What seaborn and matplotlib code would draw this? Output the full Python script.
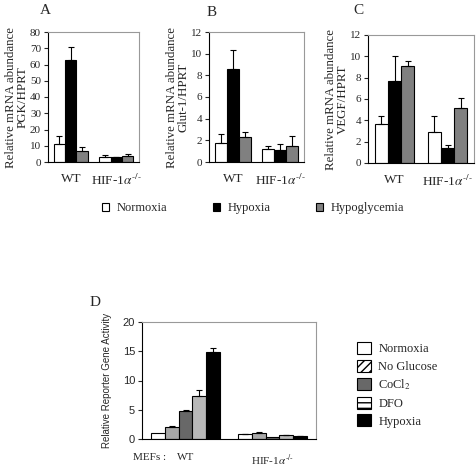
import numpy as np
import pandas as pd
import matplotlib
matplotlib.use('Agg')
import matplotlib.pyplot as plt
import seaborn as sns
from matplotlib.patches import Patch

sns.set_style('ticks')
plt.rcParams['font.family'] = ['Liberation Serif', 'DejaVu Serif']
plt.rcParams['mathtext.fontset'] = 'stix'

# Data
genotypes = ['WT', 'HIF']
genotype_labels = ['WT', r'HIF-1$\alpha^{\text{-/-}}$']
conditions = ['Normoxia', 'Hypoxia', 'Hypoglycemia']
cond_colors = ['white', 'black', '#808080']

pgk_mean = [[11, 3], [63, 3], [7, 3.5]]
pgk_err = [[5, 1.5], [7.5, 0.3], [2.5, 1.5]]
glut_mean = [[1.8, 1.2], [8.6, 1.1], [2.3, 1.5]]
glut_err = [[0.8, 0.3], [1.7, 0.6], [0.5, 0.9]]
vegf_mean = [[3.7, 2.9], [7.7, 1.4], [9.1, 5.2]]
vegf_err = [[0.7, 1.5], [2.3, 0.3], [0.5, 0.9]]

rep_conditions = ['Normoxia', 'No Glucose', 'CoCl$_2$', 'DFO', 'Hypoxia']
rep_colors = ['white', '#a8a8a8', '#686868', '#b8b8b8', 'black']
rep_leg_hatches = ['', '////', '', '---', '']
rep_leg_colors = ['white', 'white', '#686868', 'white', 'black']
rep_mean = [[1.1, 0.8], [2.0, 1.0], [4.8, 0.35], [7.4, 0.6], [14.8, 0.45]]
rep_err = [[0.0, 0.1], [0.3, 0.25], [0.1, 0.0], [0.9, 0.05], [0.7, 0.05]]


def make_df(conds, means):
    rows = []
    for c, vals in zip(conds, means):
        for g, v in zip(genotypes, vals):
            rows.append({'genotype': g, 'condition': c, 'value': v})
    return pd.DataFrame(rows)


def draw_panel(ax, conds, colors, means, errs, width=0.75):
    df = make_df(conds, means)
    sns.barplot(data=df, x='genotype', y='value', hue='condition', order=genotypes,
                hue_order=conds, palette=colors, errorbar=None, width=width,
                edgecolor='black', linewidth=0.8, legend=False, ax=ax)
    for cont, err in zip(ax.containers, errs):
        for bar, e in zip(cont, err):
            x = bar.get_x() + bar.get_width() / 2
            y = bar.get_height()
            if e > 0:
                ax.errorbar([x], [y], yerr=[[0], [e]], fmt='none', ecolor='black',
                            elinewidth=0.8, capsize=2.5, capthick=0.8)
    ax.set_xlabel('')
    ax.set_xticks([0, 1])
    ax.set_xticklabels(genotype_labels)
    ax.set_xlim(-0.5, 1.5)
    for s in ['top', 'right']:
        ax.spines[s].set_visible(True)
        ax.spines[s].set_color('#999999')
        ax.spines[s].set_linewidth(0.8)
    for s in ['left', 'bottom']:
        ax.spines[s].set_color('black')
        ax.spines[s].set_linewidth(0.8)
    ax.tick_params(axis='x', length=0, labelsize=9.5, pad=8)
    ax.tick_params(axis='y', length=3, width=0.8, labelsize=8, pad=2)


fig = plt.figure(figsize=(4.76, 4.67), dpi=100)
W, H = 476, 467


def add_axes(l, t, r, b):
    return fig.add_axes([l / W, 1 - b / H, (r - l) / W, (b - t) / H])


ylab_kw = dict(fontsize=9.3, labelpad=1, linespacing=0.95)

axA = add_axes(48, 32, 139, 162)
draw_panel(axA, conditions, cond_colors, pgk_mean, pgk_err)
axA.set_ylim(0, 80)
axA.set_yticks(range(0, 81, 10))
axA.set_ylabel('Relative mRNA abundance\nPGK/HPRT', **ylab_kw)

axB = add_axes(209, 32, 304, 162)
draw_panel(axB, conditions, cond_colors, glut_mean, glut_err)
axB.set_ylim(0, 12)
axB.set_yticks(range(0, 13, 2))
axB.set_ylabel('Relative mRNA abundance\nGlut-1/HPRT', **ylab_kw)

axC = add_axes(368, 35, 474, 163)
draw_panel(axC, conditions, cond_colors, vegf_mean, vegf_err)
axC.set_ylim(0, 12)
axC.set_yticks(range(0, 13, 2))
axC.set_ylabel('Relative mRNA abundance\nVEGF/HPRT', **ylab_kw)

fig.text(40 / W, 1 - 10 / H, 'A', fontsize=11, va='center')
fig.text(207 / W, 1 - 13 / H, 'B', fontsize=11, va='center')
fig.text(353 / W, 1 - 11 / H, 'C', fontsize=11, va='center')

handles = [Patch(facecolor=c, edgecolor='black', linewidth=0.8) for c in cond_colors]
fig.legend(handles, conditions, loc='center', bbox_to_anchor=(253 / W, 1 - 208 / H),
           ncol=3, frameon=False, fontsize=9, handlelength=0.6, handleheight=0.6,
           handletextpad=0.6, columnspacing=3.6)

# Panel D
axD = add_axes(142, 322, 316, 439)
draw_panel(axD, rep_conditions, rep_colors, rep_mean, rep_err, width=0.8)
axD.set_ylim(0, 20)
axD.set_yticks(range(0, 21, 5))
for lab in axD.get_yticklabels():
    lab.set_fontfamily('Liberation Sans')
axD.tick_params(axis='y', labelsize=8)
axD.tick_params(axis='x', labelsize=8, pad=10)
axD.set_ylabel('Relative Reporter Gene Activity', fontsize=7, family='Liberation Sans', labelpad=8)
fig.text(133 / W, 1 - 457 / H, 'MEFs :', fontsize=8, va='center')
fig.text(90 / W, 1 - 303 / H, 'D', fontsize=11, va='center')

hD = [Patch(facecolor=c, edgecolor='black', hatch=h, linewidth=0.8)
      for c, h in zip(rep_leg_colors, rep_leg_hatches)]
fig.legend(hD, rep_conditions, loc='upper left', bbox_to_anchor=(346 / W, 1 - 331 / H),
           frameon=False, fontsize=9, handlelength=1.1, handleheight=1.1,
           handletextpad=0.6, labelspacing=0.35)

fig.savefig('out.png', dpi=100)
